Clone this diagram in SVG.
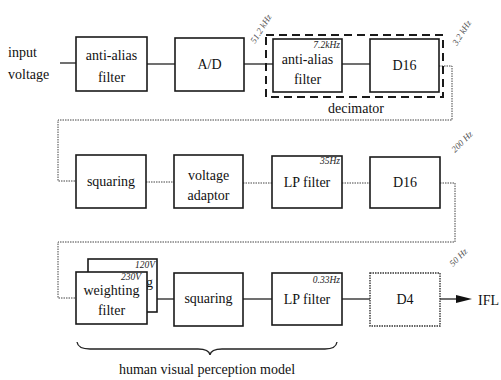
<svg xmlns="http://www.w3.org/2000/svg" width="501" height="380" viewBox="0 0 501 380">
<style>
.box{fill:#fff;stroke:#1a1a1a;stroke-width:1.6}
.dbox{fill:#fff;stroke:#333;stroke-width:1.4;stroke-dasharray:1.5 1}
text{font-family:"Liberation Serif","DejaVu Serif",serif}
.t{font-size:14px;fill:#111;text-anchor:middle}
.tl{font-size:14px;fill:#111}
.f{font-size:9.5px;font-style:italic;fill:#222;text-anchor:end}
.r{font-size:9px;font-style:italic;fill:#555}
.ln{fill:none;stroke:#222;stroke-width:1.3}
.dl{fill:none;stroke:#444;stroke-width:1;stroke-dasharray:1.5 1}
</style>
<g id="connectors">
<line class="ln" x1="60" y1="63" x2="76" y2="63"/>
<line class="ln" x1="147" y1="64" x2="175" y2="64"/>
<line class="ln" x1="244" y1="64" x2="273" y2="64"/>
<line class="ln" x1="342" y1="64" x2="370" y2="64"/>
<polyline class="dl" points="439,66 452,66 452,120 58,120 58,181 76,181"/>
<line class="dl" x1="146" y1="182" x2="174" y2="182"/>
<line class="dl" x1="243" y1="183" x2="272" y2="183"/>
<line class="dl" x1="342" y1="183" x2="370" y2="183"/>
<polyline class="dl" points="440,183 455,183 455,242 58,242 58,298 76,298"/>
<line class="ln" x1="157" y1="299" x2="174" y2="299"/>
<line class="ln" x1="243" y1="299" x2="272" y2="299"/>
<line class="ln" x1="342" y1="299" x2="370" y2="299"/>
<line class="ln" x1="440" y1="299" x2="458" y2="299"/>
<polygon points="456,295 472,299 456,303" fill="#111"/>
</g>
<g id="input">
<text class="tl" x="8" y="57" font-family="Liberation Serif, serif">input</text>
<text class="tl" x="8" y="79" font-family="Liberation Serif, serif">voltage</text>
</g>
<g id="antialias1">
<rect class="box" x="76" y="37" width="71" height="54"/>
<text class="t" x="111.5" y="60">anti-alias</text>
<text class="t" x="111.5" y="82">filter</text>
</g>
<g id="ad">
<rect class="box" x="175" y="38" width="69" height="53"/>
<text class="t" x="209.5" y="69">A/D</text>
</g>
<g id="decimator">
<rect x="266" y="35" width="177" height="62" fill="none" stroke="#1a1a1a" stroke-width="2" stroke-dasharray="8 5"/>
<text class="t" x="356" y="113">decimator</text>
</g>
<g id="antialias2">
<rect class="box" x="273" y="39" width="69" height="53"/>
<text class="f" x="340" y="48">7.2kHz</text>
<text class="t" x="307.5" y="64">anti-alias</text>
<text class="t" x="307.5" y="84">filter</text>
</g>
<g id="d16a">
<rect class="box" x="370" y="39" width="69" height="53"/>
<text class="t" x="404.5" y="70">D16</text>
</g>
<g id="squaring1">
<rect class="box" x="76" y="155" width="70" height="53"/>
<text class="t" x="111" y="186">squaring</text>
</g>
<g id="voltadapt">
<rect class="box" x="174" y="155" width="69" height="53"/>
<text class="t" x="208.5" y="180">voltage</text>
<text class="t" x="208.5" y="200">adaptor</text>
</g>
<g id="lp1">
<rect class="box" x="272" y="156" width="70" height="52"/>
<text class="f" x="340" y="164">35Hz</text>
<text class="t" x="307" y="187">LP filter</text>
</g>
<g id="d16b">
<rect class="box" x="370" y="157" width="70" height="51"/>
<text class="t" x="405" y="187">D16</text>
</g>
<g id="weighting">
<rect class="box" x="88" y="259" width="69" height="53"/>
<text class="f" x="155" y="268">120V</text>
<text class="tl" x="146" y="287">g</text>
<rect class="box" x="76" y="272" width="71" height="52"/>
<text class="f" x="141" y="280">230V</text>
<text class="t" x="111.5" y="295">weighting</text>
<text class="t" x="111.5" y="315">filter</text>
</g>
<g id="squaring2">
<rect class="box" x="174" y="273" width="69" height="53"/>
<text class="t" x="208.5" y="303">squaring</text>
</g>
<g id="lp2">
<rect class="box" x="272" y="273" width="70" height="52"/>
<text class="f" x="340" y="283">0.33Hz</text>
<text class="t" x="307" y="304">LP filter</text>
</g>
<g id="d4">
<rect class="dbox" x="370" y="273" width="70" height="53"/>
<text class="t" x="405" y="304">D4</text>
</g>
<g id="ifl">
<text class="tl" x="478" y="305">IFL</text>
</g>
<g id="rates">
<text class="r" transform="translate(255,44) rotate(-58)">51.2 kHz</text>
<text class="r" transform="translate(457,46) rotate(-58)">3.2 kHz</text>
<text class="r" transform="translate(455,153) rotate(-45)">200 Hz</text>
<text class="r" transform="translate(453,267) rotate(-45)">50 Hz</text>
</g>
<g id="hvpm">
<path class="ln" d="M77,342 Q78,349 90,349 L198,349 Q209,349 210,355 Q211,349 222,349 L325,349 Q336,349 337,342" stroke-width="1"/>
<text class="t" x="207" y="374">human visual perception model</text>
</g>
</svg>
